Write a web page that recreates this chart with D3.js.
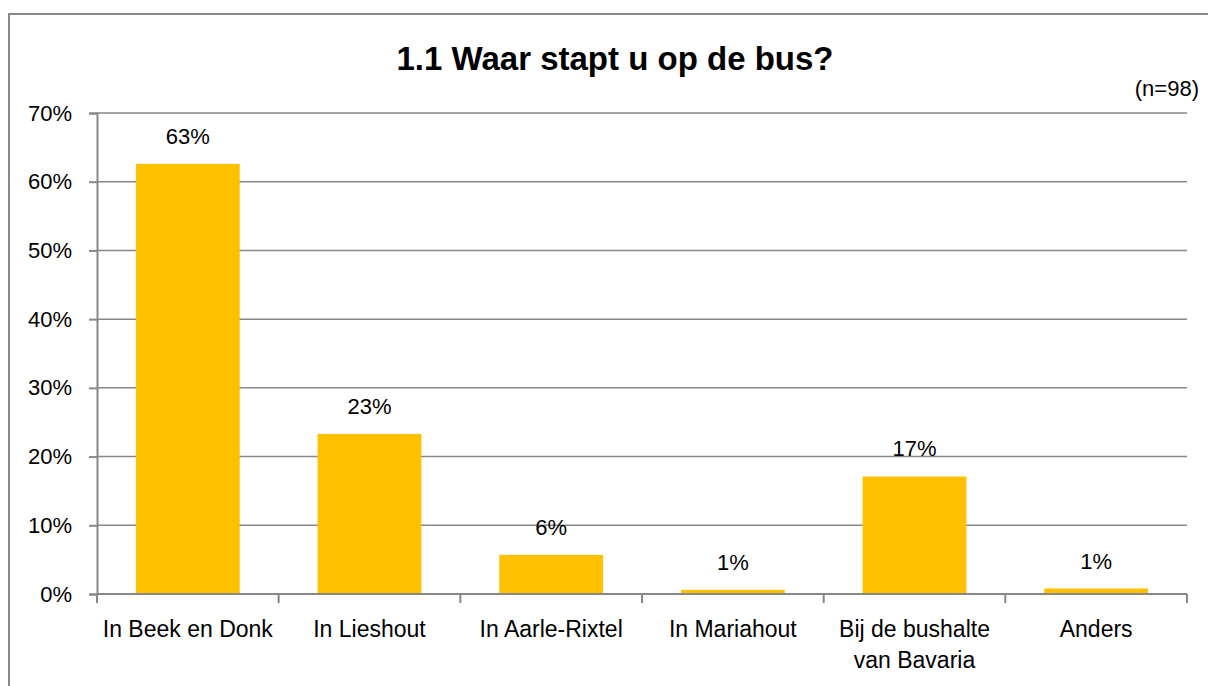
<!DOCTYPE html>
<html>
<head>
<meta charset="utf-8">
<script src="https://cdn.jsdelivr.net/npm/d3@7"></script>
<style>
  body { margin: 0; background: #fff; }
  svg { display: block; font-family: "Liberation Sans", Arial, sans-serif; }
</style>
</head>
<body>
<script>
const title = '1.1 Waar stapt u op de bus?';
const note = '(n=98)';
const categories = [
    ['In Beek en Donk'],
    ['In Lieshout'],
    ['In Aarle-Rixtel'],
    ['In Mariahout'],
    ['Bij de bushalte', 'van Bavaria'],
    ['Anders']
];
const values = [0.626, 0.233, 0.057, 0.006, 0.171, 0.008];
const yTicks = [0, 0.1, 0.2, 0.3, 0.4, 0.5, 0.6, 0.7];

const W = 1208, H = 686;
const plot = { left: 97, right: 1187, top: 113, bottom: 594 };
const lineColor = '#888888';

const svg = d3.select('body').append('svg')
    .attr('width', W)
    .attr('height', H);

// kader rond de grafiek
svg.append('rect')
    .attr('x', 9).attr('y', 14)
    .attr('width', W + 20).attr('height', H + 20)
    .attr('fill', 'none')
    .attr('stroke', lineColor)
    .attr('stroke-width', 2);

const x = d3.scaleBand()
    .domain(d3.range(categories.length))
    .range([plot.left, plot.right])
    .paddingInner(0.4286)
    .paddingOuter(0.2143);

const y = d3.scaleLinear()
    .domain([0, 0.7])
    .range([plot.bottom, plot.top]);

// rasterlijnen
svg.append('g')
    .selectAll('line')
    .data(yTicks.slice(1))
    .enter()
    .append('line')
    .attr('x1', plot.left).attr('x2', plot.right)
    .attr('y1', d => y(d)).attr('y2', d => y(d))
    .attr('stroke', lineColor)
    .attr('stroke-width', 1.5);

// y-as
const yAxis = d3.axisLeft(y)
    .tickValues(yTicks)
    .tickFormat(d3.format('.0%'))
    .tickSize(8)
    .tickPadding(17);

const gy = svg.append('g')
    .attr('transform', 'translate(' + plot.left + ',0)')
    .call(yAxis);
gy.select('.domain').attr('stroke', lineColor).attr('stroke-width', 2);
gy.selectAll('.tick line').attr('stroke', lineColor).attr('stroke-width', 2);
gy.selectAll('.tick text')
    .attr('font-size', 22)
    .attr('fill', '#000')
    .attr('font-family', '"Liberation Sans", Arial, sans-serif');

// staven
svg.append('g')
    .selectAll('rect')
    .data(values)
    .enter()
    .append('rect')
    .attr('x', (d, i) => x(i))
    .attr('y', d => y(d))
    .attr('width', x.bandwidth())
    .attr('height', d => plot.bottom - y(d))
    .attr('fill', '#FFC000');

// x-as met streepjes tussen de categorieen
const step = x.step();
const boundaries = d3.range(categories.length + 1).map(i => plot.left + i * step);
svg.append('line')
    .attr('x1', plot.left).attr('x2', plot.right)
    .attr('y1', plot.bottom).attr('y2', plot.bottom)
    .attr('stroke', lineColor).attr('stroke-width', 2);
svg.append('g')
    .selectAll('line')
    .data(boundaries)
    .enter()
    .append('line')
    .attr('x1', d => d).attr('x2', d => d)
    .attr('y1', plot.bottom).attr('y2', plot.bottom + 9)
    .attr('stroke', lineColor).attr('stroke-width', 2);

// categorie labels
const catText = svg.append('g')
    .selectAll('text')
    .data(categories)
    .enter()
    .append('text')
    .attr('text-anchor', 'middle')
    .attr('font-size', 23)
    .attr('x', (d, i) => x(i) + x.bandwidth() / 2)
    .attr('y', 637);
catText.selectAll('tspan')
    .data(d => d)
    .enter()
    .append('tspan')
    .attr('x', function () { return d3.select(this.parentNode).attr('x'); })
    .attr('dy', (d, i) => i === 0 ? 0 : 31)
    .text(d => d);

// waarde labels
svg.append('g')
    .selectAll('text')
    .data(values)
    .enter()
    .append('text')
    .attr('text-anchor', 'middle')
    .attr('font-size', 22)
    .attr('x', (d, i) => x(i) + x.bandwidth() / 2)
    .attr('y', d => y(d) - 20)
    .text(d => d3.format('.0%')(d));

// titel
svg.append('text')
    .attr('x', 615)
    .attr('y', 70)
    .attr('text-anchor', 'middle')
    .attr('font-size', 33)
    .attr('font-weight', 'bold')
    .text(title);

svg.append('text')
    .attr('x', 1199)
    .attr('y', 96)
    .attr('text-anchor', 'end')
    .attr('font-size', 22)
    .text(note);
</script>
</body>
</html>
